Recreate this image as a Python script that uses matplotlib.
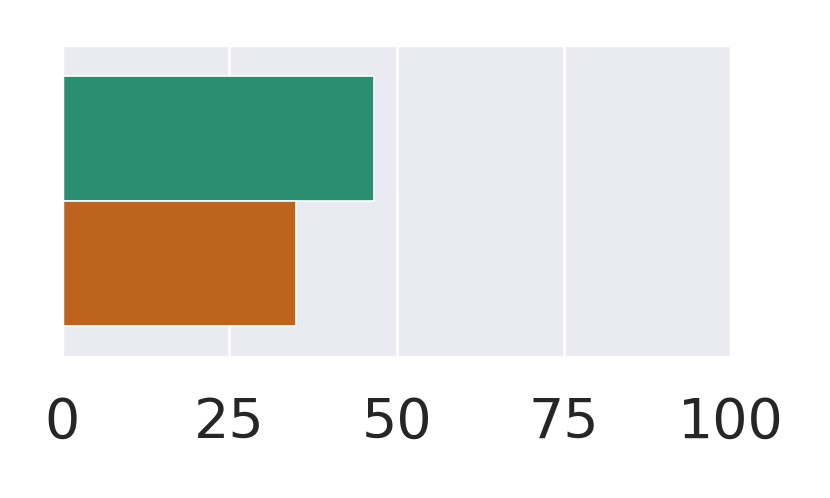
import numpy as np
import matplotlib.pyplot as plt
import seaborn as sns
import colorsys
import matplotlib.colors as mcolors

sns.set_theme(style="darkgrid")

# data
groups = ["A", "B"]
values = [46.6, 34.9]
base_colors = ["#1b9e77", "#d95f02"]


def desat(c, prop=0.75):
    r, g, b = mcolors.to_rgb(c)
    h, l, s = colorsys.rgb_to_hls(r, g, b)
    return colorsys.hls_to_rgb(h, l, s * prop)


fig = plt.figure(figsize=(4.15, 2.49), dpi=200)
ax = fig.add_axes([0.075, 0.283, 0.806, 0.627])

n = len(groups)
h = 0.8 / n
for i, (g, v) in enumerate(zip(groups, values)):
    y = -0.4 + h * (i + 0.5)
    ax.barh(y, v, height=h, color=desat(base_colors[i]), edgecolor="white", linewidth=0.6)

ax.set_xlim(0, 100)
ax.set_ylim(0.5, -0.5)
ax.set_xticks([0, 25, 50, 75, 100])
ax.set_yticks([])
ax.tick_params(axis="x", labelsize=20, length=0, pad=14)
ax.grid(axis="y", visible=False)

fig.savefig("out.png", dpi=200)
